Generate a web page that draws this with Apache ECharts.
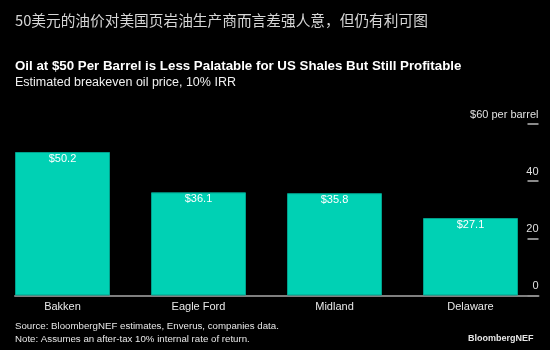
<!DOCTYPE html>
<html>
<head>
<meta charset="utf-8">
<script src="https://cdn.jsdelivr.net/npm/echarts@6/dist/echarts.min.js"></script>
<style>
  html, body { margin: 0; padding: 0; background: #000; }
  #chart { width: 550px; height: 350px; }
</style>
</head>
<body>
<div id="chart"></div>
<script>
// Breakeven oil price by US shale basin (10% IRR), USD per barrel
const basins = ['Bakken', 'Eagle Ford', 'Midland', 'Delaware'];
const breakeven = [50.2, 36.1, 35.8, 27.1];
const yTicks = [0, 20, 40, 60];
const yUnitLabel = '$60 per barrel';

const headline = '50美元的油价对美国页岩油生产商而言差强人意，但仍有利可图';
const chartTitle = 'Oil at $50 Per Barrel is Less Palatable for US Shales But Still Profitable';
const chartSubtitle = 'Estimated breakeven oil price, 10% IRR';
const sourceLine = 'Source: BloombergNEF estimates, Enverus, companies data.';
const noteLine = 'Note: Assumes an after-tax 10% internal rate of return.';
const brand = 'BloombergNEF';

const FONT = '"Liberation Sans", Arial, sans-serif';
const CJK = '"Noto Sans CJK SC", sans-serif';

const chart = echarts.init(document.getElementById('chart'), null, { renderer: 'canvas' });

const gridTop = 124;
const gridBottom = 54.5;

chart.setOption({
  backgroundColor: '#000000',
  animation: false,
  title: [
    { text: headline, left: 15, top: 10, padding: 0,
      textStyle: { fontFamily: CJK, fontSize: 14.7, fontWeight: 'normal', color: '#d6d6d6', lineHeight: 20 } },
    { text: chartTitle, left: 15, top: 58.7, padding: 0,
      textStyle: { fontFamily: FONT, fontSize: 13.3, fontWeight: 'bold', color: '#ffffff', lineHeight: 16 } },
    { text: chartSubtitle, left: 15, top: 75.7, padding: 0,
      textStyle: { fontFamily: FONT, fontSize: 12.5, fontWeight: 'normal', color: '#f0f0f0', lineHeight: 14 } },
    { text: sourceLine, left: 15, top: 320.2, padding: 0,
      textStyle: { fontFamily: FONT, fontSize: 9.7, fontWeight: 'normal', color: '#e6e6e6', lineHeight: 13 } },
    { text: noteLine, left: 15, top: 332.8, padding: 0,
      textStyle: { fontFamily: FONT, fontSize: 9.7, fontWeight: 'normal', color: '#e6e6e6', lineHeight: 13 } },
    { text: brand, right: 16.5, top: 332, padding: 0,
      textStyle: { fontFamily: FONT, fontSize: 9, fontWeight: 'bold', color: '#e6e6e6', lineHeight: 13 } }
  ],
  grid: [
    // bars + right value axis
    { left: -5.5, right: 11.5, top: gridTop, bottom: gridBottom, outerBoundsMode: 'none', containLabel: false },
    // baseline under the bars
    { left: 15, right: 11.5, top: gridTop, bottom: gridBottom, outerBoundsMode: 'none', containLabel: false }
  ],
  xAxis: [
    {
      type: 'category', gridIndex: 0, data: basins,
      axisLine: { show: false }, axisTick: { show: false },
      axisLabel: { color: '#e8e8e8', fontFamily: FONT, fontSize: 11, margin: 6 }
    },
    {
      type: 'value', gridIndex: 1, position: 'bottom', min: 0, max: 1,
      axisLine: { show: true, onZero: false, lineStyle: { color: '#7f7f7f', width: 2 } },
      axisTick: { show: false }, axisLabel: { show: false }, splitLine: { show: false }
    }
  ],
  yAxis: [
    {
      type: 'value', gridIndex: 0, position: 'right',
      min: yTicks[0], max: yTicks[yTicks.length - 1], interval: 20,
      axisLine: { show: false },
      axisTick: { show: true, inside: true, length: 11, lineStyle: { color: '#8a8a8a', width: 2 } },
      splitLine: { show: false },
      axisLabel: {
        inside: true, margin: 0, align: 'right', verticalAlign: 'bottom',
        padding: [0, 0, 4, 0],
        color: '#e0e0e0', fontFamily: FONT, fontSize: 11,
        formatter: function (v) { return v === yTicks[yTicks.length - 1] ? yUnitLabel : String(v); }
      }
    },
    { type: 'value', gridIndex: 1, show: false, min: 0, max: 1 }
  ],
  series: [{
    type: 'bar',
    xAxisIndex: 0, yAxisIndex: 0,
    data: breakeven,
    barWidth: 95,
    itemStyle: { color: '#00d1b4', borderColor: '#00a08c', borderWidth: 1 },
    label: {
      show: true, position: 'insideTop', distance: 1,
      color: '#ffffff', fontFamily: FONT, fontSize: 11,
      formatter: function (p) { return '$' + p.value.toFixed(1); }
    }
  }]
});
</script>
</body>
</html>
